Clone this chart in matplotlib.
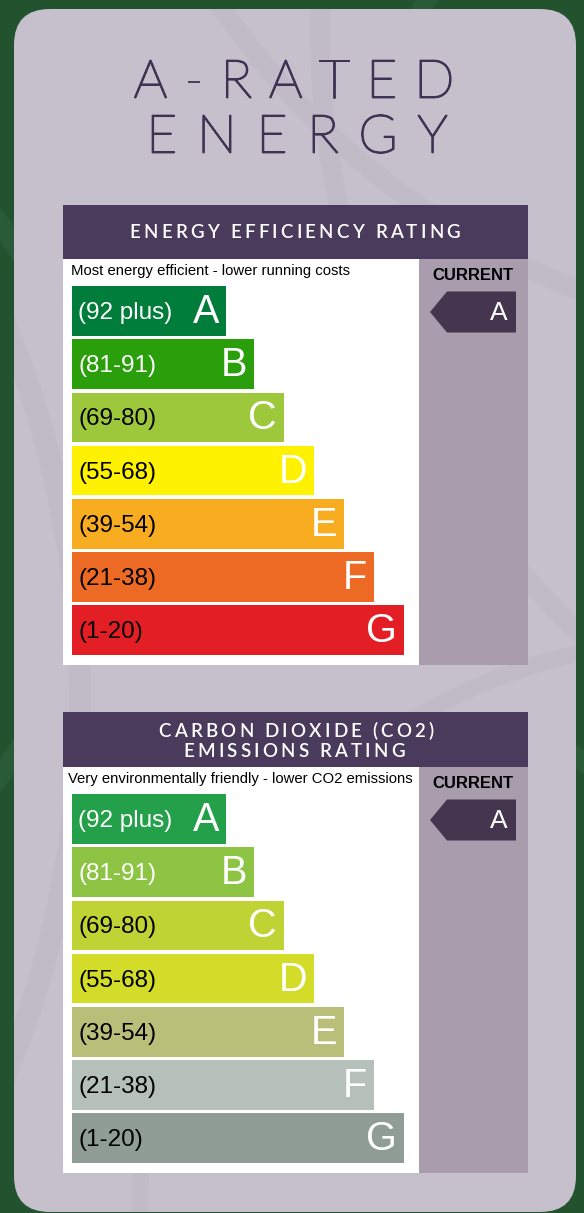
import numpy as np
import matplotlib.pyplot as plt
import matplotlib.patheffects as pe
from matplotlib.patches import FancyBboxPatch, Rectangle, Polygon, Circle
from matplotlib import font_manager
from matplotlib.ft2font import FT2Font, LOAD_NO_HINTING

# ================== data ==================
bands = ['A', 'B', 'C', 'D', 'E', 'F', 'G']
ranges = ['(92 plus)', '(81-91)', '(69-80)', '(55-68)', '(39-54)', '(21-38)', '(1-20)']
bar_lengths = [154, 182, 212, 242, 272, 302, 332]

eer_colors = ['#007c3b', '#2b9f0b', '#9ec83c', '#fff200', '#f7ad1f', '#ec6a23', '#e31e24']
co2_colors = ['#24a04a', '#8dc443', '#bfd334', '#d3dc28', '#b9bf79', '#b5c0ba', '#909d97']
label_colors = ['white', 'white', 'black', 'black', 'black', 'black', 'black']

current_eer = 'A'
current_co2 = 'A'

# ================== colours ==================
BG = '#23522f'
CARD = '#c5c0cb'
PURPLE = '#4a3a5c'
ARROW = '#45354f'
GREYCOL = '#a89cad'
TITLE = '#3f3252'

W, H = 584, 1213
fig = plt.figure(figsize=(W / 100, H / 100), dpi=100)
fig.patch.set_facecolor(BG)
ax = fig.add_axes([0, 0, 1, 1])
ax.set_xlim(0, W)
ax.set_ylim(H, 0)
ax.axis('off')


def advance(ch, fp, size):
    font = FT2Font(font_manager.findfont(fp))
    font.set_size(size, 100)
    g = font.load_char(ord(ch), flags=LOAD_NO_HINTING)
    return g.linearHoriAdvance / 65536


def tracked(x, y, s, size, color, track, fp, effects=None):
    # draw text with extra letter spacing, centred at x
    widths = [advance(c, fp, size) for c in s]
    total = sum(widths) + track * (len(s) - 1)
    pos = x - total / 2
    for c, w in zip(s, widths):
        t = ax.text(pos, y, c, fontproperties=fp, fontsize=size, color=color,
                    ha='left', va='center_baseline')
        if effects:
            t.set_path_effects(effects)
        pos += w + track


# background bands
for cx, cy, r in [(-380, 500, 470), (900, 300, 560)]:
    ax.add_patch(Circle((cx, cy), r, fill=False, ec='#2a5b38', lw=14))

# card
card = FancyBboxPatch((14, 9), 562, 1203, boxstyle='round,pad=0,rounding_size=36',
                      fc=CARD, ec='none')
ax.add_patch(card)
for cx, cy, r, lw in [(-900, 700, 980, 16), (1150, 30, 830, 14), (700, 1200, 560, 12),
                      (850, -420, 760, 14)]:
    c = Circle((cx, cy), r, fill=False, ec='#c0bbc6', lw=lw)
    ax.add_patch(c)
    c.set_clip_path(card)

# title
title_fp = font_manager.FontProperties(family='Lato', weight='light')
thin = [pe.withStroke(linewidth=1.3, foreground=TITLE)]
tracked(294, 78, 'A-RATED', 38, TITLE, 17, title_fp, thin)
tracked(297, 133, 'ENERGY', 38, TITLE, 20, title_fp, thin)

head_fp = font_manager.FontProperties(family='Lato', weight='semibold')


def panel(top, header_lines, subtitle, sub_x, colors, current):
    head_h = 54 if len(header_lines) == 1 else 55
    ax.add_patch(Rectangle((63, top), 465, head_h, fc=PURPLE, ec='none'))
    if len(header_lines) == 1:
        tracked(295, top + 26, header_lines[0], 13.5, 'white', 3.2, head_fp)
    else:
        tracked(296, top + 18, header_lines[0], 13.5, 'white', 3.2, head_fp)
        tracked(294, top + 38, header_lines[1], 13.5, 'white', 3.2, head_fp)
    body = top + head_h
    ax.add_patch(Rectangle((63, body), 356, 406, fc='white', ec='none'))
    ax.add_patch(Rectangle((419, body), 109, 406, fc=GREYCOL, ec='none'))
    ax.text(sub_x, body + 12, subtitle, fontsize=10.7, family='Liberation Sans',
            color='black', ha='left', va='center')
    ax.text(473, body + 17, 'CURRENT', fontsize=12, family='Liberation Sans',
            weight='bold', color='black', ha='center', va='center')

    # current rating tag
    ty = body + 53
    ax.add_patch(Polygon([(430, ty), (447, ty - 20.5), (516, ty - 20.5),
                          (516, ty + 20.5), (447, ty + 20.5)], fc=ARROW, ec='none'))
    ax.text(508, ty + 1, current, fontsize=19, family='Liberation Sans',
            color='white', ha='right', va='center')

    ys = body + 52 + np.arange(len(bands)) * 53.2
    ax.barh(ys, bar_lengths, left=72, height=49.5, color=colors)
    for yv, L, band, rng, lc in zip(ys, bar_lengths, bands, ranges, label_colors):
        ax.text(78, yv + 2, rng, fontsize=17.5, family='Liberation Sans',
                color=lc, ha='left', va='center')
        ax.text(72 + L - 7, yv + 1, band, fontsize=28.5, family='Liberation Sans',
                color='white', ha='right', va='center')


panel(205, ['ENERGY EFFICIENCY RATING'],
      'Most energy efficient - lower running costs', 71, eer_colors, current_eer)
panel(712, ['CARBON DIOXIDE (CO2)', 'EMISSIONS RATING'],
      'Very environmentally friendly - lower CO2 emissions', 68, co2_colors, current_co2)

fig.savefig('out.png', dpi=100, facecolor=BG)
